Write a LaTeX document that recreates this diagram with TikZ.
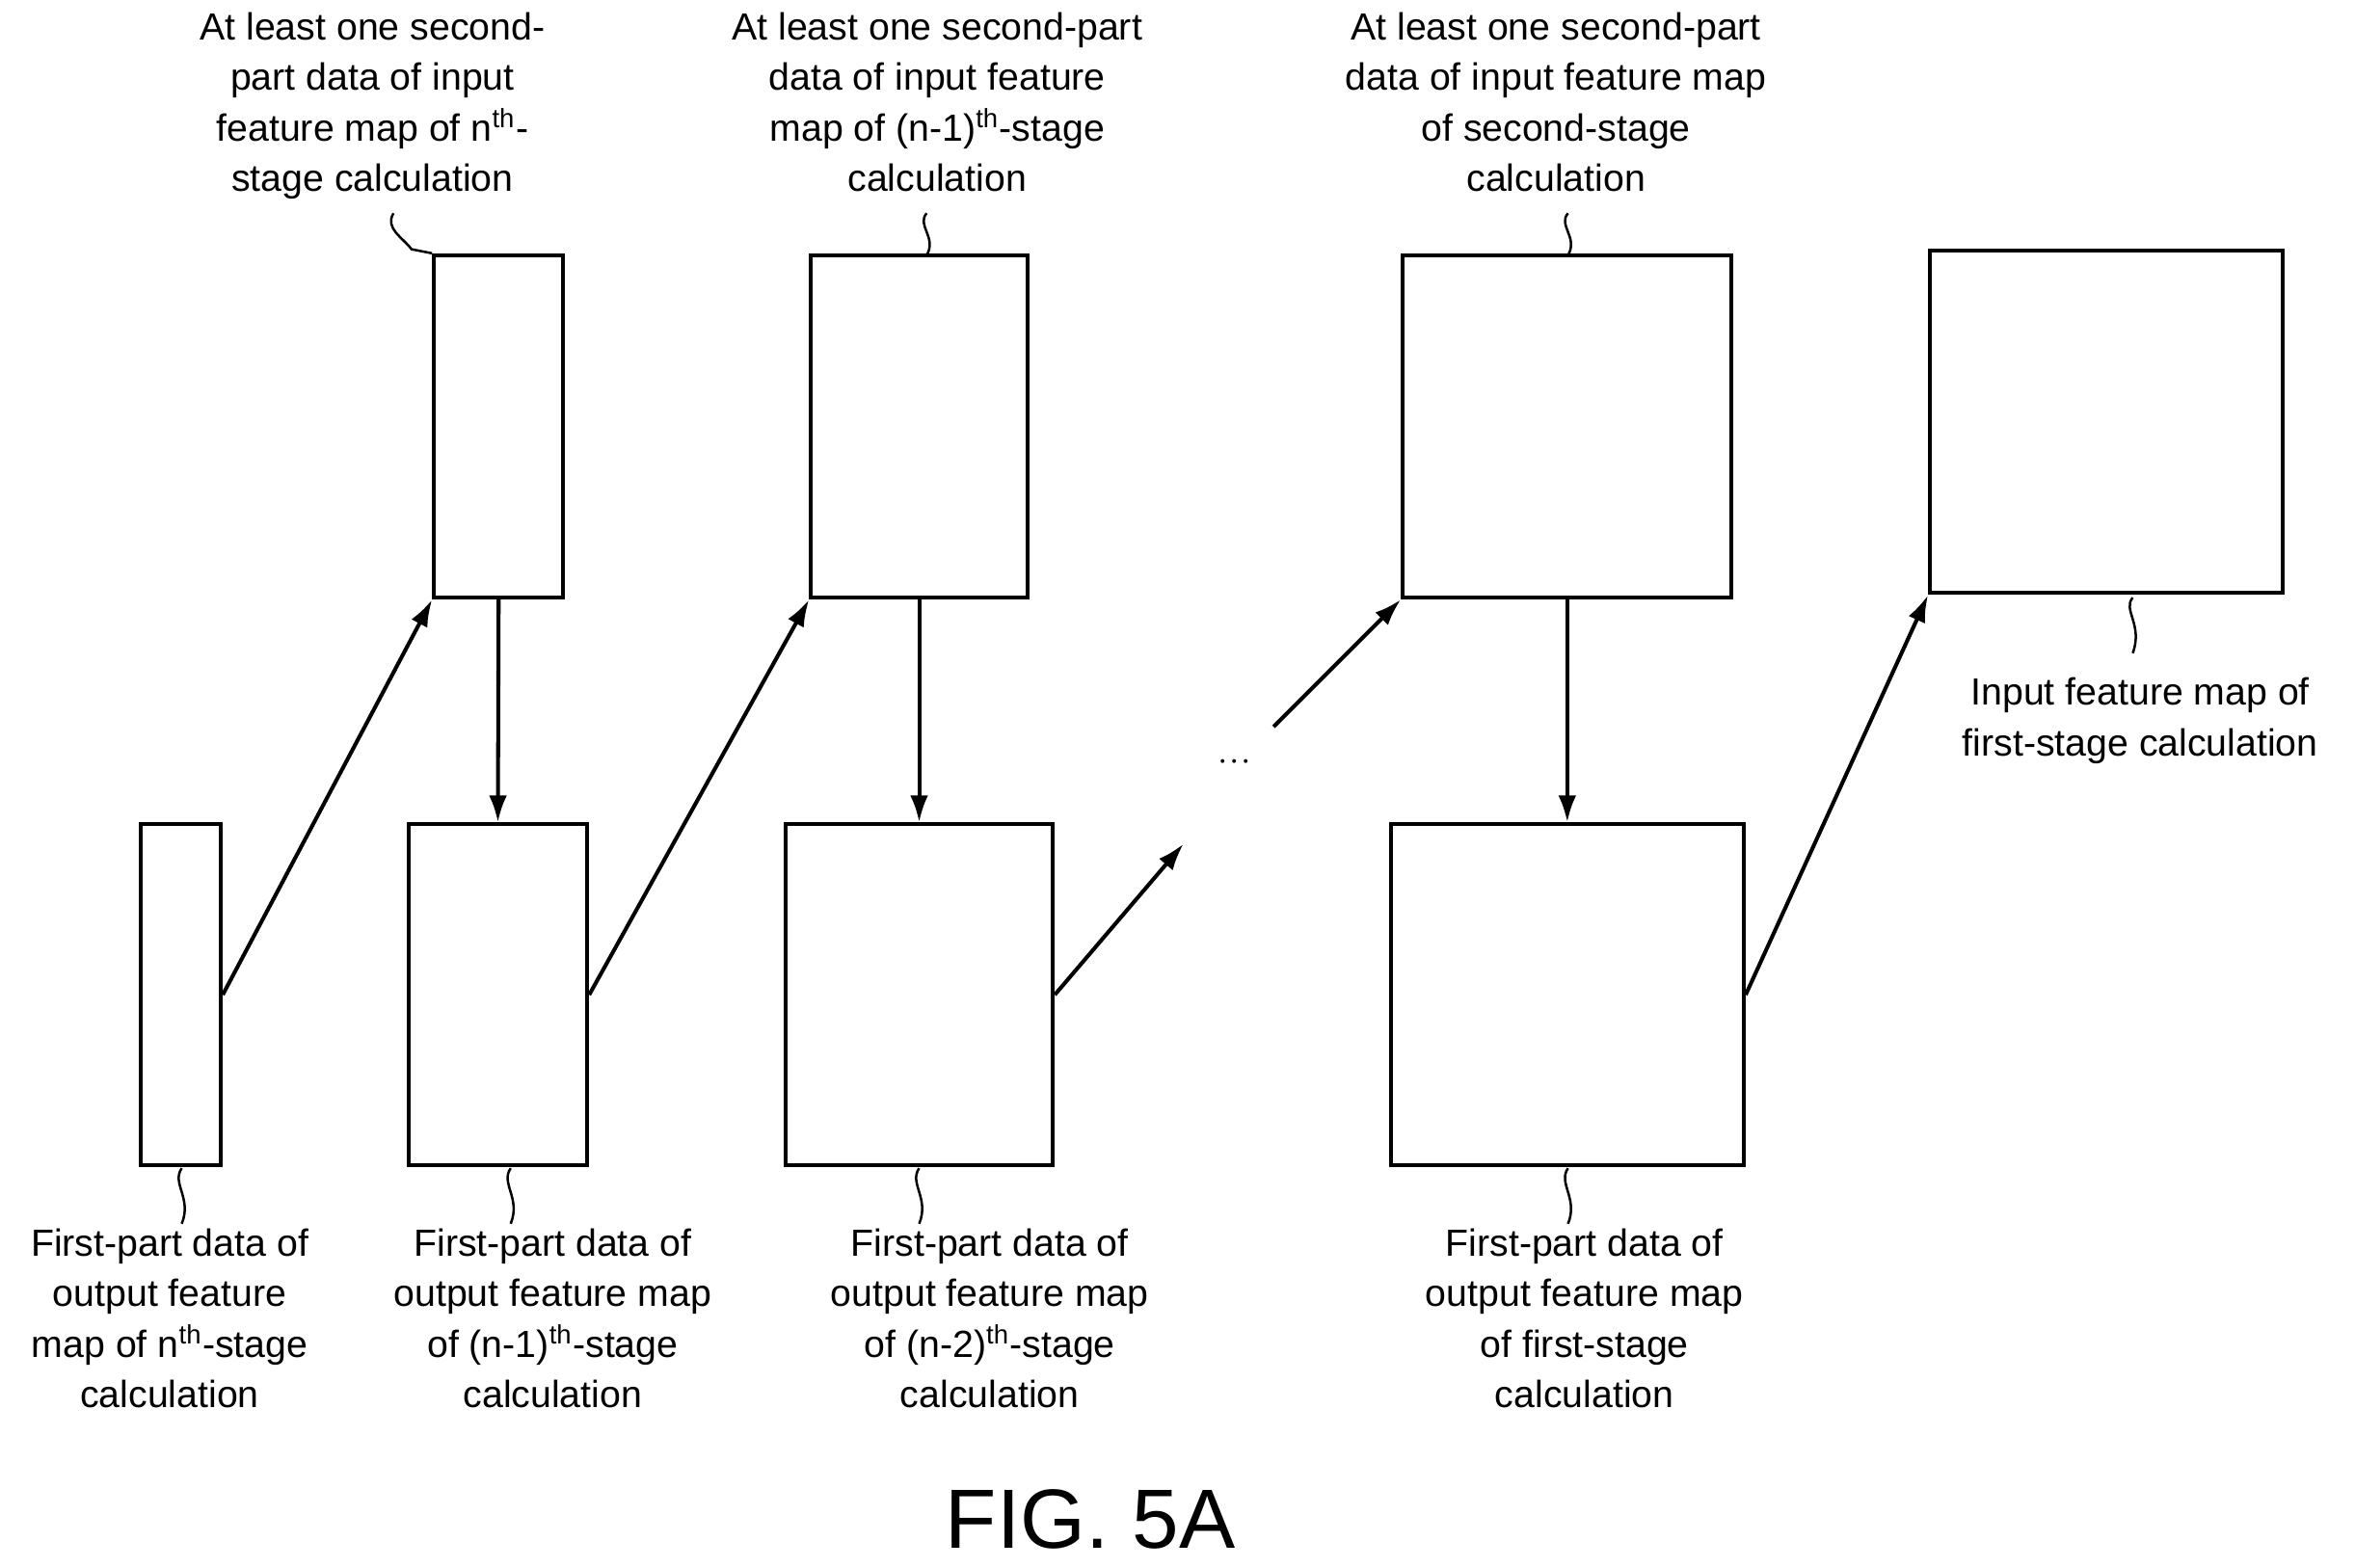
\documentclass[tikz,border=0pt]{standalone}
\usepackage{fontspec}
\setmainfont{Liberation Sans}
\usetikzlibrary{arrows.meta,fit}
\begin{document}
\begin{tikzpicture}[x=0.5pt,y=-0.5pt,
 box/.style={draw,line width=1.3pt,inner sep=0pt},
 arr/.style={line width=1.3pt,-{Latex[length=9pt,width=6pt]}},
 sq/.style={line width=0.8pt},
 lab/.style={align=center,font=\fontsize{12.6}{16.8}\selectfont,inner sep=0pt}]
\useasboundingbox (0,0) rectangle (1568,1044);
\node[box,fit={(94,549)(147,776)}] (A) {};
\node[box,fit={(289,170)(375,398)}] (B) {};
\node[box,fit={(272,549)(391,776)}] (C) {};
\node[box,fit={(540,170)(684,398)}] (D) {};
\node[box,fit={(523,549)(701,776)}] (E) {};
\node[box,fit={(934,170)(1153,398)}] (F) {};
\node[box,fit={(926,549)(1161,776)}] (G) {};
\node[box,fit={(1285,167)(1520,395)}] (H) {};
\draw[arr] (A.east) -- (B.south west);
\draw[arr] (B.south) -- (C.north);
\draw[arr] (C.east) -- (D.south west);
\draw[arr] (D.south) -- (E.north);
\coordinate (e1) at (788,562);
\draw[arr] (E.east) -- (e1);
\node[lab] (dots) at (822,508) {$\cdot\!\cdot\!\cdot$};
\node[rotate=45,lab] at (822,510) {};
\coordinate (f0) at (848,484);
\draw[arr] (f0) -- (F.south west);
\draw[arr] (F.south) -- (G.north);
\draw[arr] (G.east) -- (H.south west);
% labels
\node[lab,anchor=north] (lB) at (248,8) {At least one second-\\part data of input\\feature map of n\textsuperscript{th}-\\stage calculation};
\node[lab,anchor=north] (lD) at (624,8) {At least one second-part\\data of input feature\\map of (n-1)\textsuperscript{th}-stage\\calculation};
\node[lab,anchor=north] (lF) at (1036,8) {At least one second-part\\data of input feature map\\of second-stage\\calculation};
\node[lab,anchor=north] (lH) at (1425,451) {Input feature map of\\first-stage calculation};
\node[lab,anchor=north] (lA) at (113,818) {First-part data of\\output feature\\map of n\textsuperscript{th}-stage\\calculation};
\node[lab,anchor=north] (lC) at (368,818) {First-part data of\\output feature map\\of (n-1)\textsuperscript{th}-stage\\calculation};
\node[lab,anchor=north] (lE) at (659,818) {First-part data of\\output feature map\\of (n-2)\textsuperscript{th}-stage\\calculation};
\node[lab,anchor=north] (lG) at (1055,818) {First-part data of\\output feature map\\of first-stage\\calculation};
\node[lab,font=\fontsize{28}{32}\selectfont] (fig) at (726,1012) {FIG. 5A};
% squiggles
\draw[sq] (262,142) .. controls (256,152) and (268,158) .. (274,166) -- (B.north west);
\draw[sq] (617,142) .. controls (610,150) and (624,158) .. (617,170);
\draw[sq] (1044,142) .. controls (1037,150) and (1051,158) .. (1044,170);
\draw[sq] (1420,398) .. controls (1413,406) and (1427,416) .. (1420,435);
\draw[sq] (121,778) .. controls (114,788) and (128,798) .. (121,815);
\draw[sq] (340,778) .. controls (333,788) and (347,798) .. (340,815);
\draw[sq] (612,778) .. controls (605,788) and (619,798) .. (612,815);
\draw[sq] (1044,778) .. controls (1037,788) and (1051,798) .. (1044,815);
\end{tikzpicture}
\end{document}
